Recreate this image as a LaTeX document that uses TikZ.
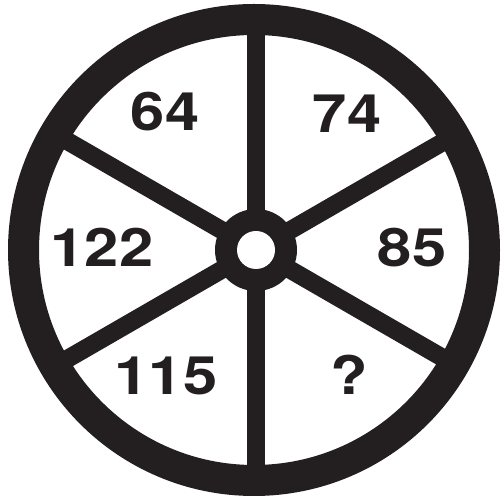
\documentclass[tikz,border=0pt]{standalone}
\usepackage{fontspec}
\newfontfamily\numfont[FakeStretch=1.16]{TeX Gyre Heros}
\definecolor{wheelink}{HTML}{231F20}

\begin{document}
\begin{tikzpicture}[x=1pt, y=1pt, every node/.style={font=\numfont\fontsize{53}{53}\selectfont\bfseries, text=wheelink}]
    \useasboundingbox (0,0) rectangle (503,500);
    \coordinate (rim) at (254,250);
    \coordinate (axle) at (256,250);
    \draw[wheelink, line width=31pt] (rim) circle[radius=230.5];
    \foreach \a in {30,90,...,330}
      \draw[wheelink, line width=18pt] (axle) -- ++(\a:232);
    \node[circle, fill=wheelink, minimum size=82pt, inner sep=0pt] (hub) at (axle) {};
    \node[circle, fill=white, minimum size=38pt, inner sep=0pt] (hole) at (axle) {};
    \node (n64) at (165,388) {64};
    \node (n74) at (347,386) {74};
    \node (n122) at (102,253) {122};
    \node (n85) at (412,252) {85};
    \node (n115) at (166,124) {115};
    \node (nq) at (349,125) {?};
  \end{tikzpicture}
\end{document}
